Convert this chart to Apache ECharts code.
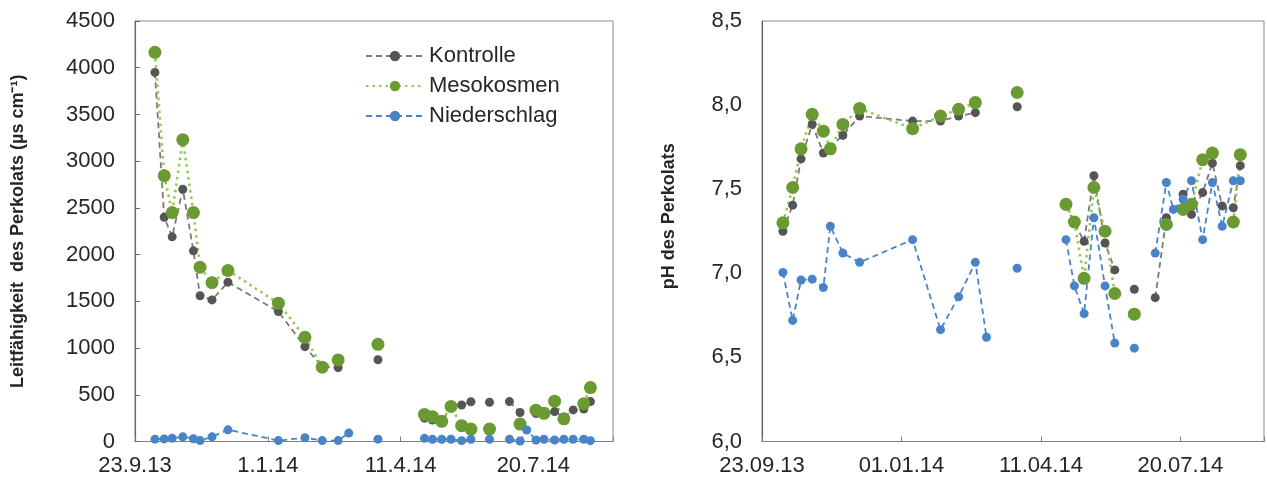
<!DOCTYPE html>
<html>
<head>
<meta charset="utf-8">
<script src="https://cdn.jsdelivr.net/npm/echarts@6/dist/echarts.min.js"></script>
<style>
  html, body { margin: 0; padding: 0; background: #fff; }
  #chart { width: 1267px; height: 482px; }
</style>
</head>
<body>
<div id="chart"></div>
<script>
// Sampling dates (empty rows break the lines between campaigns)
const startDate = '2013-09-23';
const dates = [
  '2013-10-08', '2013-10-15', '2013-10-21', '2013-10-29', '2013-11-06', '2013-11-11',
  '2013-11-20', '2013-12-02', '2014-01-09', '2014-01-29', '2014-02-11', '2014-02-23',
  '2014-03-03', '2014-03-14', '2014-03-25', '2014-04-11', '2014-04-29', '2014-05-05',
  '2014-05-12', '2014-05-19', '2014-05-27', '2014-06-03', '2014-06-10', '2014-06-17',
  '2014-06-24', '2014-07-02', '2014-07-10', '2014-07-15', '2014-07-22', '2014-07-28',
  '2014-08-05', '2014-08-12', '2014-08-19', '2014-08-27', '2014-09-01'
];

// Leitfähigkeit (µS/cm)
const ecKontrolle = [
  3950, 2400, 2190, 2700, 2040, 1560, 1515, 1705, 1390, 1015, 800, 790,
  null, null, 875, null, 250, 230, 210, 360, 390, 425, null, 420,
  null, 427, 310, null, 300, 290, 320, 260, 338, 348, 427
];
const ecMesokosmen = [
  4165, 2845, 2450, 3230, 2450, 1865, 1700, 1830, 1480, 1115, 795, 873,
  null, null, 1040, null, 290, 266, 216, 375, 169, 133, null, 133,
  null, null, 186, null, 335, 302, 432, 243, null, 405, 577
];
const ecNiederschlag = [
  25, 28, 35, 50, 30, 10, 50, 125, 10, 40, 10, 10,
  90, null, 25, null, 34, 24, 24, 24, 9, 24, null, 24,
  null, 24, 5, 123, 16, 24, 16, 24, 24, 24, 9
];

// pH des Perkolats
const phKontrolle = [
  7.25, 7.405, 7.68, 7.885, 7.715, 7.75, 7.82, 7.935, 7.905, 7.905, 7.935, 7.955,
  null, null, 7.99, null, 7.40, 7.30, 7.19, 7.58, 7.18, 7.02, null, 6.905,
  null, 6.855, 7.33, null, 7.47, 7.35, 7.48, 7.655, 7.40, 7.39, 7.64
];
const phMesokosmen = [
  7.30, 7.51, 7.74, 7.945, 7.845, 7.74, 7.885, 7.98, 7.86, 7.935, 7.975, 8.015,
  null, null, 8.075, null, 7.41, 7.305, 6.97, 7.51, 7.25, 6.88, null, 6.757,
  null, null, 7.29, null, 7.38, 7.41, 7.675, 7.715, null, 7.305, 7.705
];
const phNiederschlag = [
  7.005, 6.72, 6.96, 6.965, 6.915, 7.28, 7.12, 7.065, 7.20, 6.665, 6.86, 7.065,
  6.62, null, 7.03, null, 7.20, 6.925, 6.76, 7.33, 6.925, 6.585, null, 6.555,
  null, 7.12, 7.54, 7.38, 7.44, 7.55, 7.20, 7.54, 7.28, 7.55, 7.55
];

// Axis tick labels (every 100 days from the start date)
const tickLabelsEc = ['23.9.13', '1.1.14', '11.4.14', '20.7.14'];
const tickLabelsPh = ['23.09.13', '01.01.14', '11.04.14', '20.07.14'];

const DAY = 86400000;
const t0 = Date.parse(startDate + 'T00:00:00Z');
const dayOffsets = dates.map(d => Math.round((Date.parse(d + 'T00:00:00Z') - t0) / DAY));
const pairs = vals => dayOffsets.map((x, i) => [x, vals[i]]);

const TEXT = '#262626';
const FONT = 'Liberation Sans, Arial, sans-serif';
const TICK_FONT = 22;

const styles = {
  Kontrolle:   { color: '#555555', line: '#7a7a7a', type: [6, 4], width: 1.8, size: 9 },
  Mesokosmen:  { color: '#6b9a33', line: '#92c94f', type: [2.5, 4], width: 2.6, size: 13 },
  Niederschlag:{ color: '#4a84c8', line: '#4a84c8', type: [6, 4], width: 1.8, size: 9 }
};

function mkSeries(name, vals, idx) {
  const s = styles[name];
  return {
    name: name,
    type: 'line',
    xAxisIndex: idx,
    yAxisIndex: idx,
    data: pairs(vals),
    symbol: 'circle',
    symbolSize: s.size,
    showSymbol: true,
    connectNulls: false,
    itemStyle: { color: s.color },
    lineStyle: { color: s.line, type: s.type, width: s.width },
    emphasis: { disabled: true },
    animation: false
  };
}

function xAxisFor(idx, labels) {
  return {
    type: 'value', gridIndex: idx, min: 0, max: 360, interval: 100,
    axisLine: { show: true, onZero: false, lineStyle: { color: '#7f7f7f', width: 1.2 } },
    axisTick: { show: true, inside: true, length: 5, lineStyle: { color: '#7f7f7f' } },
    splitLine: { show: false },
    axisLabel: {
      color: TEXT, fontFamily: FONT, fontSize: TICK_FONT, margin: 13,
      formatter: v => (v % 100 === 0 && v / 100 < labels.length) ? labels[v / 100] : ''
    }
  };
}

const chart = echarts.init(document.getElementById('chart'), null, { renderer: 'canvas' });
chart.setOption({
  backgroundColor: '#ffffff',
  animation: false,
  grid: [
    { left: 135, right: 654, top: 21, bottom: 40.5, show: true, borderColor: '#8c8c8c', borderWidth: 1 },
    { left: 762, right: 1, top: 21, bottom: 40.5, show: true, borderColor: '#8c8c8c', borderWidth: 1 }
  ],
  legend: {
    data: ['Kontrolle', 'Mesokosmen', 'Niederschlag'],
    orient: 'vertical',
    left: 360, top: 40,
    itemWidth: 58, itemHeight: 13, itemGap: 8,
    textStyle: { color: TEXT, fontFamily: FONT, fontSize: 22 },
    selectedMode: false
  },
  xAxis: [ xAxisFor(0, tickLabelsEc), xAxisFor(1, tickLabelsPh) ],
  yAxis: [
    {
      type: 'value', gridIndex: 0, min: 0, max: 4500, interval: 500,
      name: 'Leitfähigkeit  des Perkolats (µs cm⁻¹)',
      nameLocation: 'middle', nameGap: 108,
      nameTextStyle: { color: TEXT, fontFamily: FONT, fontSize: 18, fontWeight: 'bold' },
      axisLine: { show: true, lineStyle: { color: '#666666', width: 1.2 } },
      axisTick: { show: true, inside: true, length: 5, lineStyle: { color: '#666666' } },
      splitLine: { show: false },
      axisLabel: {
        color: TEXT, fontFamily: FONT, fontSize: TICK_FONT, margin: 20,
        formatter: v => String(v)
      }
    },
    {
      type: 'value', gridIndex: 1, min: 6, max: 8.5, interval: 0.5,
      name: 'pH des Perkolats',
      nameLocation: 'middle', nameGap: 84,
      nameTextStyle: {
        color: TEXT, fontFamily: FONT, fontSize: 18, fontWeight: 'bold',
        padding: [0, 0, 0, 30]
      },
      axisLine: { show: true, lineStyle: { color: '#666666', width: 1.2 } },
      axisTick: { show: false },
      splitLine: { show: false },
      axisLabel: {
        color: TEXT, fontFamily: FONT, fontSize: TICK_FONT, margin: 20,
        formatter: v => v.toFixed(1).replace('.', ',')
      }
    }
  ],
  series: [
    mkSeries('Kontrolle', ecKontrolle, 0),
    mkSeries('Mesokosmen', ecMesokosmen, 0),
    mkSeries('Niederschlag', ecNiederschlag, 0),
    mkSeries('Kontrolle', phKontrolle, 1),
    mkSeries('Mesokosmen', phMesokosmen, 1),
    mkSeries('Niederschlag', phNiederschlag, 1)
  ]
});
</script>
</body>
</html>
